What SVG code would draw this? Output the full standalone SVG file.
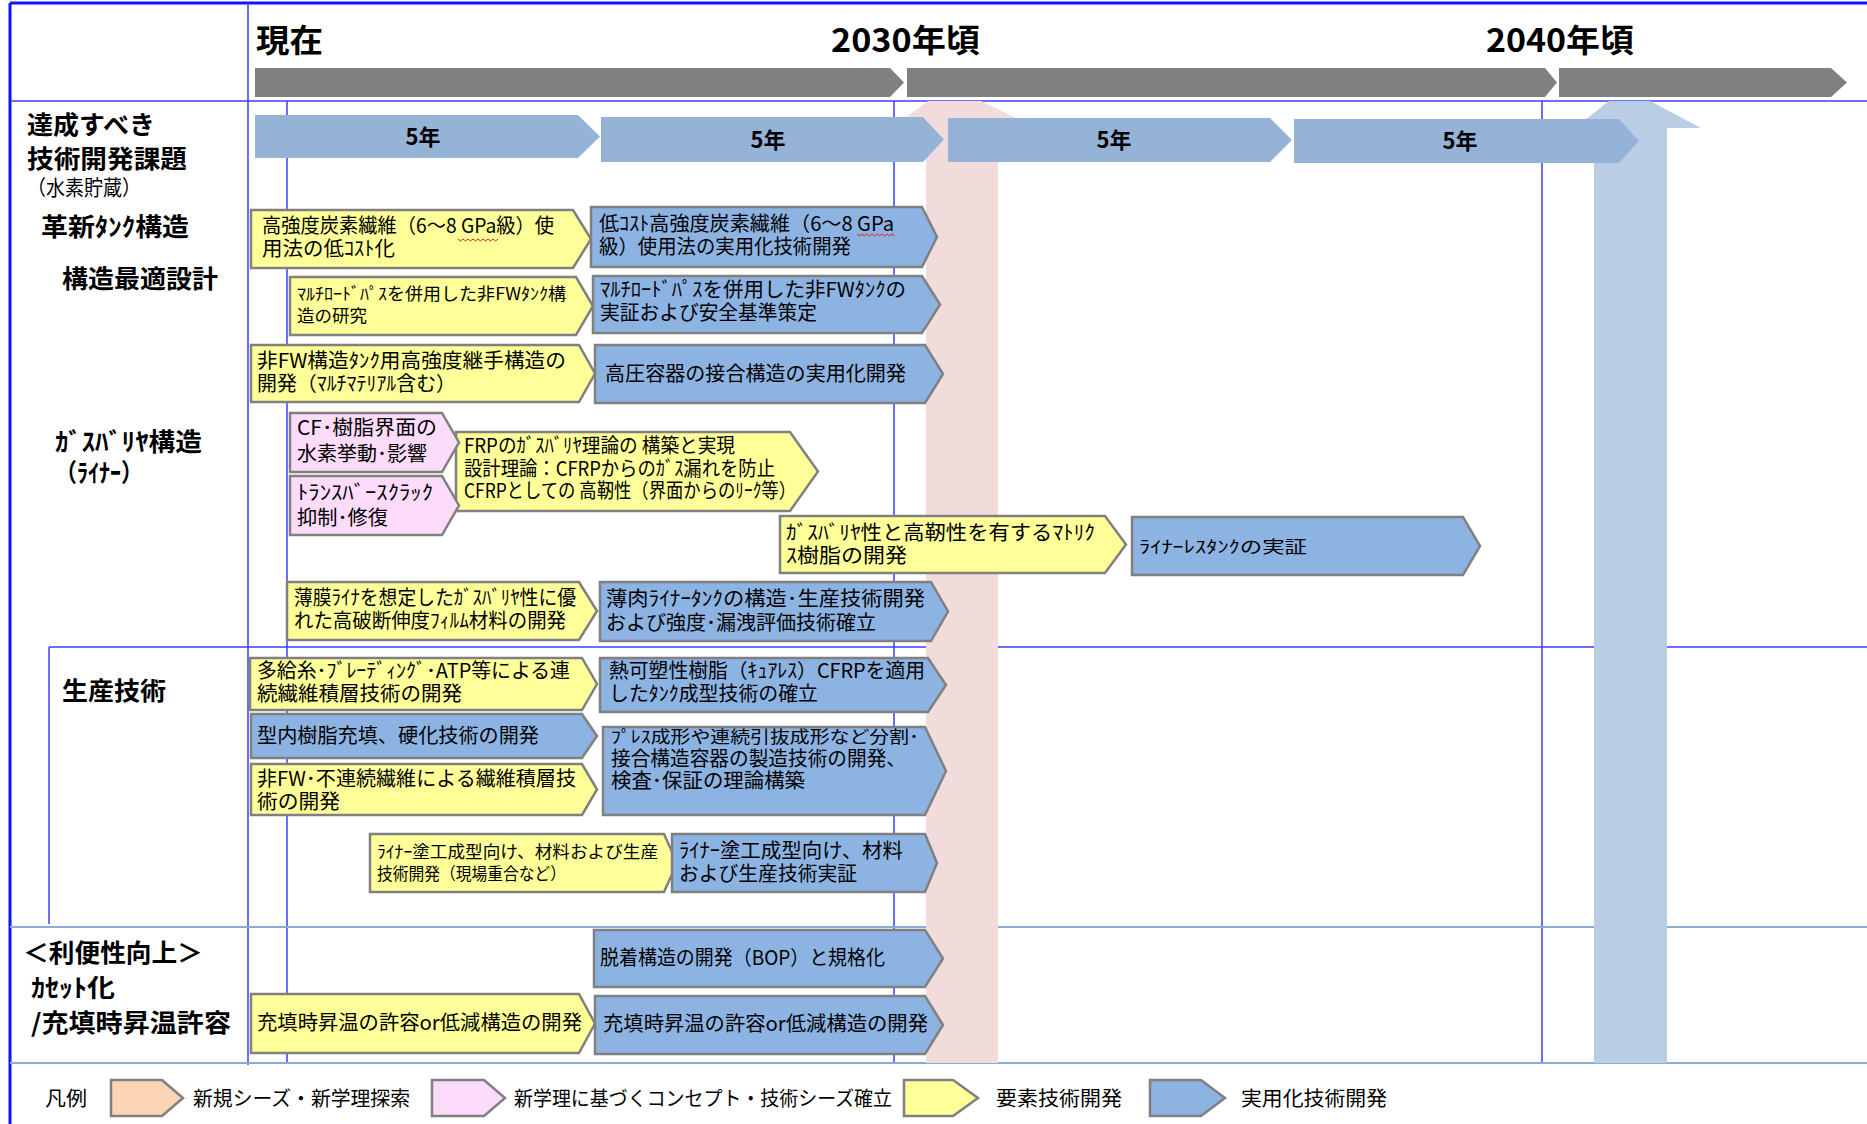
<svg xmlns="http://www.w3.org/2000/svg" width="1867" height="1124" viewBox="0 0 1867 1124">
  <style>
    .grid { stroke: #3c3cff; stroke-width: 1.5; fill: none; }
    .frame { stroke: #1010ff; stroke-width: 3; fill: none; }
    .soft { stroke: #8eaadb; stroke-width: 2; fill: none; }
    .gray { fill: #808080; }
    .span { fill: #95b3d7; }
    .box { stroke: #808080; stroke-width: 2.5; stroke-linejoin: miter; }
    .yel { fill: #ffff99; }
    .blu { fill: #8db3e2; }
    .pnk { fill: #fddcfb; }
    .pch { fill: #fcd5b4; }
    text { font-family: "Noto Sans CJK JP", "Noto Sans", sans-serif; fill: #000; }
    .hd { font-size: 32px; font-weight: bold; }
    .yr { font-size: 22px; font-weight: bold; }
    .lb { font-size: 25px; font-weight: bold; }
    .t { font-size: 20px; }
    .s { font-size: 17px; }
    .lg { font-size: 20px; }
    .squig { stroke: #e02020; stroke-width: 1; fill: none; }
  </style>

  <rect width="1867" height="1124" fill="#ffffff"/>

  <!-- table grid -->
  <g id="grid">
    <line class="frame" x1="10" y1="3" x2="1867" y2="3"/>
    <line class="frame" x1="10" y1="3" x2="10" y2="1124"/>
    <line class="grid" x1="10" y1="101" x2="1867" y2="101"/>
    <line class="grid" x1="248" y1="3" x2="248" y2="1065"/>
    <line class="grid" x1="287" y1="101" x2="287" y2="1063"/>
    <line class="grid" x1="894" y1="101" x2="894" y2="1063"/>
    <line class="grid" x1="1542" y1="101" x2="1542" y2="1063"/>
    <line class="grid" x1="49" y1="647" x2="1867" y2="647"/>
    <line class="grid" x1="49" y1="647" x2="49" y2="924"/>
    <line class="soft" x1="10" y1="927" x2="1867" y2="927"/>
    <line class="soft" x1="10" y1="1063" x2="1867" y2="1063"/>
  </g>

  <!-- milestone up-arrows -->
  <g id="milestone-2030">
    <polygon points="928,101 981,101 1018,119 998,119 998,1063 926,1063 926,119 904,119" fill="#f2dcdb"/>
  </g>
  <g id="milestone-2040">
    <polygon points="1609,101 1650,101 1701,128 1667,128 1667,1063 1594,1063 1594,128 1575,128" fill="#b9cde5"/>
  </g>

  <!-- timeline header -->
  <g id="timeline">
    <polygon class="gray" points="255,68 890,68 904,82.5 890,97 255,97"/>
    <polygon class="gray" points="907,68 1545,68 1557,82.5 1545,97 907,97"/>
    <polygon class="gray" points="1559,68 1831,68 1847,82.5 1831,97 1559,97"/>
    <text class="hd" x="256" y="52" textLength="67" lengthAdjust="spacingAndGlyphs">現在</text>
    <text class="hd" x="831" y="52" textLength="149" lengthAdjust="spacingAndGlyphs">2030年頃</text>
    <text class="hd" x="1486" y="52" textLength="148" lengthAdjust="spacingAndGlyphs">2040年頃</text>
  </g>

  <g id="five-year-spans">
    <polygon class="span" points="255,115 578,115 600,136.5 578,158 255,158"/>
    <polygon class="span" points="601,117 923,117 944,139.5 923,162 601,162"/>
    <polygon class="span" points="948,118 1270,118 1292,140 1270,162 948,162"/>
    <polygon class="span" points="1294,119 1619,119 1639,141 1619,163 1294,163"/>
    <text class="yr" x="423" y="145" text-anchor="middle">5年</text>
    <text class="yr" x="768" y="148" text-anchor="middle">5年</text>
    <text class="yr" x="1114" y="148" text-anchor="middle">5年</text>
    <text class="yr" x="1460" y="149" text-anchor="middle">5年</text>
  </g>

  <!-- row headings -->
  <g id="row-labels">
    <text class="lb" x="27" y="134" textLength="128" lengthAdjust="spacingAndGlyphs">達成すべき</text>
    <text class="lb" x="27" y="168" textLength="160" lengthAdjust="spacingAndGlyphs">技術開発課題</text>
    <text x="27" y="195" font-size="21" textLength="114" lengthAdjust="spacingAndGlyphs">（水素貯蔵）</text>
    <text class="lb" x="41" y="236" textLength="148" lengthAdjust="spacingAndGlyphs">革新ﾀﾝｸ構造</text>
    <text class="lb" x="62" y="288" textLength="156" lengthAdjust="spacingAndGlyphs">構造最適設計</text>
    <text class="lb" x="55" y="451" textLength="147" lengthAdjust="spacingAndGlyphs">ｶﾞｽﾊﾞﾘﾔ構造</text>
    <text class="lb" x="55" y="482" textLength="88" lengthAdjust="spacingAndGlyphs">（ﾗｲﾅｰ）</text>
    <text class="lb" x="62" y="700" textLength="104" lengthAdjust="spacingAndGlyphs">生産技術</text>
    <text class="lb" x="23" y="962" textLength="180" lengthAdjust="spacingAndGlyphs">＜利便性向上＞</text>
    <text class="lb" x="31" y="997" textLength="84" lengthAdjust="spacingAndGlyphs">ｶｾｯﾄ化</text>
    <text class="lb" x="31" y="1032" textLength="200" lengthAdjust="spacingAndGlyphs">/充填時昇温許容</text>
  </g>

  <!-- 革新タンク構造 / 構造最適設計 -->
  <g id="task-a">
    <polygon class="box yel" points="251,210 573,210 591,239 573,268 251,268"/>
    <text class="t" x="262" y="233" textLength="292" lengthAdjust="spacingAndGlyphs">高強度炭素繊維（6～8 GPa級）使</text>
    <text class="t" x="262" y="256" textLength="133" lengthAdjust="spacingAndGlyphs">用法の低ｺｽﾄ化</text>
    <path class="squig" d="M458,239 l2.5,2 l2.5,-2 l2.5,2 l2.5,-2 l2.5,2 l2.5,-2 l2.5,2 l2.5,-2 l2.5,2 l2.5,-2 l2.5,2 l2.5,-2 l2.5,2 l2.5,-2 l2.5,2 l2.5,-2"/>
  </g>
  <g id="task-b">
    <polygon class="box blu" points="591,207 922,207 937,237 922,267 591,267"/>
    <text class="t" x="599" y="231" textLength="295" lengthAdjust="spacingAndGlyphs">低ｺｽﾄ高強度炭素繊維（6～8 GPa</text>
    <text class="t" x="599" y="254" textLength="252" lengthAdjust="spacingAndGlyphs">級）使用法の実用化技術開発</text>
    <path class="squig" d="M857,234 l2.5,2 l2.5,-2 l2.5,2 l2.5,-2 l2.5,2 l2.5,-2 l2.5,2 l2.5,-2 l2.5,2 l2.5,-2 l2.5,2 l2.5,-2 l2.5,2 l2.5,-2 l2.5,2"/>
  </g>
  <g id="task-c">
    <polygon class="box yel" points="290,277 576,277 593,306 576,335 290,335"/>
    <text class="s" x="297" y="300" textLength="269" lengthAdjust="spacingAndGlyphs">ﾏﾙﾁﾛｰﾄﾞﾊﾟｽを併用した非FWﾀﾝｸ構</text>
    <text class="s" x="297" y="322" textLength="70" lengthAdjust="spacingAndGlyphs">造の研究</text>
  </g>
  <g id="task-d">
    <polygon class="box blu" points="593,276 922,276 940,304.5 922,333 593,333"/>
    <text class="t" x="600" y="297" textLength="306" lengthAdjust="spacingAndGlyphs">ﾏﾙﾁﾛｰﾄﾞﾊﾟｽを併用した非FWﾀﾝｸの</text>
    <text class="t" x="600" y="320" textLength="217" lengthAdjust="spacingAndGlyphs">実証および安全基準策定</text>
  </g>
  <g id="task-e">
    <polygon class="box yel" points="251,345 579,345 595,373.5 579,402 251,402"/>
    <text class="t" x="257" y="368" textLength="309" lengthAdjust="spacingAndGlyphs">非FW構造ﾀﾝｸ用高強度継手構造の</text>
    <text class="t" x="257" y="391" textLength="199" lengthAdjust="spacingAndGlyphs">開発（ﾏﾙﾁﾏﾃﾘｱﾙ含む）</text>
  </g>
  <g id="task-f">
    <polygon class="box blu" points="595,345 925,345 943,374 925,403 595,403"/>
    <text class="t" x="605" y="381" textLength="301" lengthAdjust="spacingAndGlyphs">高圧容器の接合構造の実用化開発</text>
  </g>

  <!-- ガスバリヤ構造（ライナー） -->
  <g id="task-i">
    <polygon class="box yel" points="456,432 790,432 818,471.5 790,511 456,511"/>
    <text class="t" x="464" y="453" textLength="271" lengthAdjust="spacingAndGlyphs">FRPのｶﾞｽﾊﾞﾘﾔ理論の 構築と実現</text>
    <text class="t" x="464" y="476" textLength="311" lengthAdjust="spacingAndGlyphs">設計理論：CFRPからのｶﾞｽ漏れを防止</text>
    <text class="t" x="464" y="498" textLength="332" lengthAdjust="spacingAndGlyphs">CFRPとしての 高靭性（界面からのﾘｰｸ等）</text>
  </g>
  <g id="task-g">
    <polygon class="box pnk" points="290,413 442,413 459,442.5 442,472 290,472"/>
    <text class="t" x="297" y="435" font-size="21" textLength="140" lengthAdjust="spacingAndGlyphs">CF･樹脂界面の</text>
    <text class="t" x="297" y="461" font-size="21" textLength="130" lengthAdjust="spacingAndGlyphs">水素挙動･影響</text>
  </g>
  <g id="task-h">
    <polygon class="box pnk" points="290,476 442,476 459,505.5 442,535 290,535"/>
    <text class="t" x="297" y="500" textLength="136" lengthAdjust="spacingAndGlyphs">ﾄﾗﾝｽﾊﾞｰｽｸﾗｯｸ</text>
    <text class="t" x="297" y="525" font-size="21" textLength="91" lengthAdjust="spacingAndGlyphs">抑制･修復</text>
  </g>
  <g id="task-j">
    <polygon class="box yel" points="780,516 1105,516 1126,544.5 1105,573 780,573"/>
    <text class="t" x="786" y="540" textLength="309" lengthAdjust="spacingAndGlyphs">ｶﾞｽﾊﾞﾘﾔ性と高靭性を有するﾏﾄﾘｸ</text>
    <text class="t" x="786" y="563" textLength="121" lengthAdjust="spacingAndGlyphs">ｽ樹脂の開発</text>
  </g>
  <g id="task-k">
    <polygon class="box blu" points="1132,517 1463,517 1480,546 1463,575 1132,575"/>
    <text class="s" x="1139" y="553" textLength="168" lengthAdjust="spacingAndGlyphs">ﾗｲﾅｰﾚｽﾀﾝｸの実証</text>
  </g>
  <g id="task-l">
    <polygon class="box yel" points="287,582 579,582 597,611 579,640 287,640"/>
    <text class="t" x="294" y="605" textLength="282" lengthAdjust="spacingAndGlyphs">薄膜ﾗｲﾅを想定したｶﾞｽﾊﾞﾘﾔ性に優</text>
    <text class="t" x="294" y="628" textLength="272" lengthAdjust="spacingAndGlyphs">れた高破断伸度ﾌｨﾙﾑ材料の開発</text>
  </g>
  <g id="task-m">
    <polygon class="box blu" points="600,582 931,582 948,611.5 931,641 600,641"/>
    <text class="t" x="606" y="606" textLength="319" lengthAdjust="spacingAndGlyphs">薄肉ﾗｲﾅｰﾀﾝｸの構造･生産技術開発</text>
    <text class="t" x="606" y="630" textLength="270" lengthAdjust="spacingAndGlyphs">および強度･漏洩評価技術確立</text>
  </g>

  <!-- 生産技術 -->
  <g id="task-n">
    <polygon class="box yel" points="250,658 582,658 597,684 582,710 250,710"/>
    <text class="t" x="257" y="678" textLength="313" lengthAdjust="spacingAndGlyphs">多給糸･ﾌﾞﾚｰﾃﾞｨﾝｸﾞ･ATP等による連</text>
    <text class="t" x="257" y="701" textLength="205" lengthAdjust="spacingAndGlyphs">続繊維積層技術の開発</text>
  </g>
  <g id="task-o">
    <polygon class="box blu" points="600,658 928,658 946,685 928,712 600,712"/>
    <text class="t" x="609" y="678" textLength="316" lengthAdjust="spacingAndGlyphs">熱可塑性樹脂（ｷｭｱﾚｽ）CFRPを適用</text>
    <text class="t" x="609" y="701" textLength="209" lengthAdjust="spacingAndGlyphs">したﾀﾝｸ成型技術の確立</text>
  </g>
  <g id="task-p">
    <polygon class="box blu" points="251,714 582,714 597,736 582,758 251,758"/>
    <text class="t" x="257" y="743" textLength="282" lengthAdjust="spacingAndGlyphs">型内樹脂充填、硬化技術の開発</text>
  </g>
  <g id="task-q">
    <polygon class="box yel" points="251,764 582,764 597,789.5 582,815 251,815"/>
    <text class="t" x="257" y="786" textLength="319" lengthAdjust="spacingAndGlyphs">非FW･不連続繊維による繊維積層技</text>
    <text class="t" x="257" y="809" textLength="83" lengthAdjust="spacingAndGlyphs">術の開発</text>
  </g>
  <g id="task-r">
    <polygon class="box blu" points="603,727 925,727 946,771 925,815 603,815"/>
    <text class="s" x="611" y="743" textLength="308" lengthAdjust="spacingAndGlyphs">ﾌﾟﾚｽ成形や連続引抜成形など分割･</text>
    <text class="t" x="611" y="766" textLength="295" lengthAdjust="spacingAndGlyphs">接合構造容器の製造技術の開発、</text>
    <text class="t" x="611" y="788" textLength="194" lengthAdjust="spacingAndGlyphs">検査･保証の理論構築</text>
  </g>
  <g id="task-s">
    <polygon class="box yel" points="370,834 664,834 677,863 664,892 370,892"/>
    <text class="s" x="377" y="858" textLength="281" lengthAdjust="spacingAndGlyphs">ﾗｲﾅｰ塗工成型向け、材料および生産</text>
    <text class="s" x="377" y="880" textLength="189" lengthAdjust="spacingAndGlyphs">技術開発（現場重合など）</text>
  </g>
  <g id="task-t">
    <polygon class="box blu" points="672,834 925,834 937,863 925,892 672,892"/>
    <text class="t" x="679" y="858" textLength="224" lengthAdjust="spacingAndGlyphs">ﾗｲﾅｰ塗工成型向け、材料</text>
    <text class="t" x="679" y="881" textLength="178" lengthAdjust="spacingAndGlyphs">および生産技術実証</text>
  </g>

  <!-- 利便性向上 -->
  <g id="task-u">
    <polygon class="box blu" points="594,930 925,930 943,958.5 925,987 594,987"/>
    <text class="t" x="600" y="965" textLength="285" lengthAdjust="spacingAndGlyphs">脱着構造の開発（BOP）と規格化</text>
  </g>
  <g id="task-v">
    <polygon class="box yel" points="251,994 579,994 595,1023.5 579,1053 251,1053"/>
    <text class="t" x="257" y="1030" textLength="325" lengthAdjust="spacingAndGlyphs">充填時昇温の許容or低減構造の開発</text>
  </g>
  <g id="task-w">
    <polygon class="box blu" points="595,996 925,996 943,1025 925,1054 595,1054"/>
    <text class="t" x="603" y="1031" textLength="325" lengthAdjust="spacingAndGlyphs">充填時昇温の許容or低減構造の開発</text>
  </g>

  <!-- legend -->
  <g id="legend">
    <text class="lg" x="45" y="1106" textLength="42" lengthAdjust="spacingAndGlyphs">凡例</text>
    <polygon class="box pch" points="111,1080 162,1080 183,1098 162,1116 111,1116"/>
    <text class="lg" x="193" y="1106" textLength="217" lengthAdjust="spacingAndGlyphs">新規シーズ・新学理探索</text>
    <polygon class="box pnk" points="432,1080 484,1080 505,1098 484,1116 432,1116"/>
    <text class="lg" x="514" y="1106" textLength="378" lengthAdjust="spacingAndGlyphs">新学理に基づくコンセプト・技術シーズ確立</text>
    <polygon class="box yel" points="904,1080 953,1080 978,1098 953,1116 904,1116"/>
    <text class="lg" x="996" y="1106" textLength="126" lengthAdjust="spacingAndGlyphs">要素技術開発</text>
    <polygon class="box blu" points="1150,1080 1201,1080 1225,1098 1201,1116 1150,1116"/>
    <text class="lg" x="1241" y="1106" textLength="146" lengthAdjust="spacingAndGlyphs">実用化技術開発</text>
  </g>
</svg>
